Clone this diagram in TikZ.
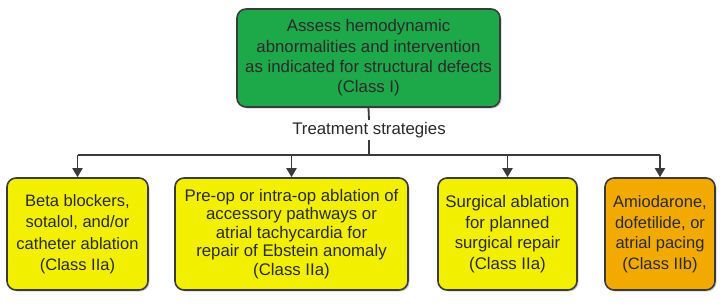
\documentclass[tikz,border=0pt]{standalone}
\usepackage{fontspec}
\setmainfont{Liberation Sans}
\usetikzlibrary{arrows.meta,shadows}
\definecolor{boxgreen}{HTML}{1DA84A}
\definecolor{boxyellow}{HTML}{F2F000}
\definecolor{boxorange}{HTML}{F2AA00}
\definecolor{edge}{HTML}{3A3A3A}
\definecolor{txt}{HTML}{2A2A2A}
\tikzset{
  box/.style={draw=edge, line width=1.6pt, rounded corners=9pt, align=center,
    text=txt, inner sep=0pt,
    drop shadow={shadow xshift=1.5pt, shadow yshift=-1.5pt, opacity=0.35}},
  conn/.style={draw=edge, line width=1.8pt},
  arr/.style={conn, -{Triangle[length=9pt,width=10pt]}},
}
\begin{document}
\begin{tikzpicture}[x=1pt,y=-1pt]
\useasboundingbox (0,0) rectangle (726,305);
\node[box, fill=boxgreen, minimum width=263pt, minimum height=98pt,
  font=\fontsize{16.8}{20.3}\selectfont] (top) at (368.5,58)
  {Assess hemodynamic\\abnormalities and intervention\\as indicated for structural defects\\(Class I)};
\node[font=\fontsize{16.8}{18}\selectfont, text=txt, fill=white, inner sep=2pt] (lbl) at (369,130) {Treatment strategies};
\node[box, fill=boxyellow, minimum width=141pt, minimum height=112pt,
  font=\fontsize{16.5}{21.5}\selectfont] (b1) at (77.5,234)
  {Beta blockers,\\sotalol, and/or\\catheter ablation\\(Class IIa)};
\node[box, fill=boxyellow, minimum width=233pt, minimum height=112pt,
  font=\fontsize{16.8}{18.5}\selectfont] (b2) at (291.5,234)
  {Pre-op or intra-op ablation of\\accessory pathways or\\atrial tachycardia for\\repair of Ebstein anomaly\\(Class IIa)};
\node[box, fill=boxyellow, minimum width=139pt, minimum height=112pt,
  font=\fontsize{16.8}{20.7}\selectfont] (b3) at (507.5,234)
  {Surgical ablation\\for planned\\surgical repair\\(Class IIa)};
\node[box, fill=boxorange, minimum width=110pt, minimum height=112pt,
  font=\fontsize{16.5}{20.5}\selectfont] (b4) at (660,234)
  {Amiodarone,\\dofetilide, or\\atrial pacing\\(Class IIb)};
\coordinate (hub) at (369,155);
\draw[conn] (top.south) -- (lbl.north);
\draw[conn] (lbl.south) -- (hub);
\draw[conn] (b1.north |- hub) -- (b4.north |- hub);
\foreach \b in {b1,b2,b3,b4} \draw[arr] (\b.north |- hub) -- (\b.north);
\end{tikzpicture}
\end{document}
